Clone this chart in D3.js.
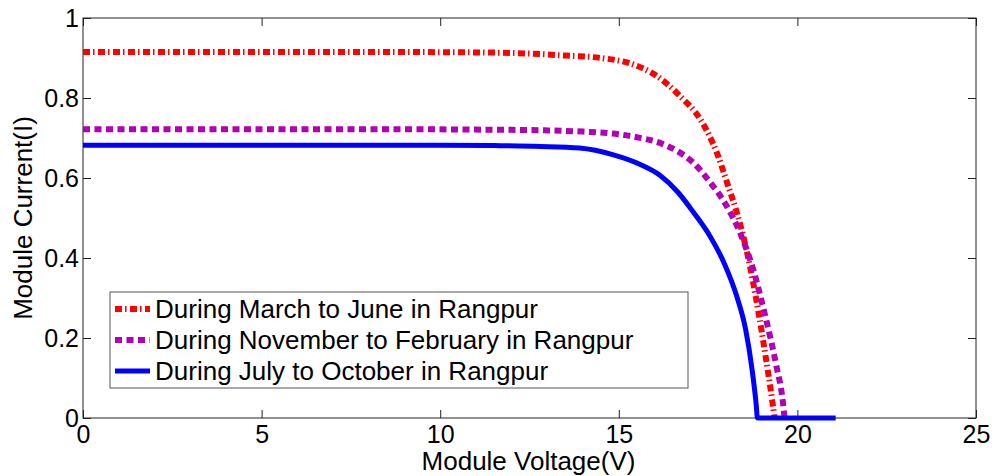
<!DOCTYPE html>
<html>
<head>
<meta charset="utf-8">
<script src="https://cdn.jsdelivr.net/npm/d3@7"></script>
<style>
  body { margin: 0; background: #fff; }
  svg { display: block; font-family: "Liberation Sans", Arial, sans-serif; }
</style>
</head>
<body>
<script>
// I-V curves
var marchV = [0, 4, 8, 11, 12.5, 13.5, 14.5, 15.4, 16.1, 16.7, 17.3, 17.75, 18.05, 18.3, 18.6, 18.9, 19.1, 19.3, 19.36];
var marchI = [0.915, 0.915, 0.915, 0.914, 0.911, 0.906, 0.9, 0.884, 0.853, 0.806, 0.744, 0.662, 0.583, 0.515, 0.41, 0.27, 0.16, 0.04, 0];

var novV = [0, 4, 8, 11, 13, 14, 14.85, 15.5, 16.2, 16.7, 17.1, 17.55, 18.0, 18.4, 18.75, 19.1, 19.4, 19.6, 19.64];
var novI = [0.722, 0.722, 0.722, 0.721, 0.719, 0.716, 0.711, 0.702, 0.686, 0.664, 0.637, 0.59, 0.533, 0.462, 0.375, 0.255, 0.135, 0.035, 0];

var julyV = [0, 4, 8, 10, 11.5, 12.8, 13.9, 14.85, 15.6, 16.15, 16.65, 17.1, 17.55, 17.95, 18.3, 18.55, 18.73, 18.85, 18.88, 21.07];
var julyI = [0.682, 0.682, 0.682, 0.682, 0.681, 0.679, 0.675, 0.658, 0.634, 0.607, 0.565, 0.513, 0.455, 0.387, 0.305, 0.222, 0.122, 0.03, 0, 0];

var seriesNames = ["During March to June in Rangpur",
                   "During November to February in Rangpur",
                   "During July to October in Rangpur"];
var xTicks = [0, 5, 10, 15, 20, 25];
var yTicks = [0, 0.2, 0.4, 0.6, 0.8, 1];

var w = 995, h = 476;
var mLeft = 83, mRight = 976, mTop = 18, mBottom = 418;

var series = [
    {name: seriesNames[0], v: marchV, i: marchI, color: "#ff0000", dash: "7,3,1.5,3.5", width: 6},
    {name: seriesNames[1], v: novV, i: novI, color: "#b400b4", dash: "7,4.5", width: 6},
    {name: seriesNames[2], v: julyV, i: julyI, color: "#0000ff", dash: null, width: 5}
];

var xScale = d3.scaleLinear().domain([0, 25]).range([mLeft, mRight]);
var yScale = d3.scaleLinear().domain([0, 1]).range([mBottom, mTop]);

var svg = d3.select("body").append("svg")
    .attr("width", w)
    .attr("height", h);

svg.append("rect")
    .attr("width", w).attr("height", h)
    .attr("fill", "#fff");

// axes: ticks point inward, mirrored on top and right like matlab
var axisColor = "#222";
var tickLen = 8;

var xAxis = d3.axisBottom(xScale).tickValues(xTicks).tickSize(-tickLen).tickPadding(7).tickFormat(d3.format("d"));
var yAxis = d3.axisLeft(yScale).tickValues(yTicks).tickSize(-tickLen).tickPadding(5).tickFormat(function(d) { return d3.format("~g")(d); });

var gx = svg.append("g").attr("transform", "translate(0," + mBottom + ")").call(xAxis);
var gy = svg.append("g").attr("transform", "translate(" + mLeft + ",0)").call(yAxis);

svg.append("g").attr("transform", "translate(0," + mTop + ")")
    .call(d3.axisTop(xScale).tickValues(xTicks).tickSize(-tickLen).tickFormat(""));
svg.append("g").attr("transform", "translate(" + mRight + ",0)")
    .call(d3.axisRight(yScale).tickValues(yTicks).tickSize(-tickLen).tickFormat(""));

svg.selectAll(".domain").remove();
svg.selectAll(".tick line").attr("stroke", axisColor).attr("stroke-width", 1);
svg.selectAll(".tick text").attr("fill", "#000").attr("font-size", 25)
    .attr("font-family", "Liberation Sans, Arial, sans-serif");
gx.selectAll(".tick text").attr("dy", "0.71em");
gy.selectAll(".tick text").attr("x", -4);

svg.append("rect")
    .attr("x", mLeft).attr("y", mTop)
    .attr("width", mRight - mLeft).attr("height", mBottom - mTop)
    .attr("fill", "none")
    .attr("stroke", axisColor)
    .attr("stroke-width", 1);

// curves
var line = d3.line()
    .x(function(d) { return xScale(d[0]); })
    .y(function(d) { return yScale(d[1]); })
    .curve(d3.curveMonotoneX);

series.forEach(function(s) {
    var pts = d3.zip(s.v, s.i);
    svg.append("path")
        .datum(pts)
        .attr("d", line)
        .attr("fill", "none")
        .attr("stroke", s.color)
        .attr("stroke-width", s.width)
        .attr("stroke-dasharray", s.dash)
        .attr("stroke-linejoin", "round");
});

// axis titles
svg.append("text")
    .attr("x", (mLeft + mRight) / 2 - 1)
    .attr("y", 470)
    .attr("text-anchor", "middle")
    .attr("font-size", 26)
    .text("Module Voltage(V)");

svg.append("text")
    .attr("transform", "translate(32," + ((mTop + mBottom) / 2) + ") rotate(-90)")
    .attr("text-anchor", "middle")
    .attr("font-size", 26)
    .text("Module Current(I)");

// legend
var legend = svg.append("g");
legend.append("rect")
    .attr("x", 110).attr("y", 292)
    .attr("width", 578).attr("height", 96)
    .attr("fill", "#fff")
    .attr("stroke", "#555")
    .attr("stroke-width", 1);

var rowY = [309, 340, 371];
series.forEach(function(s, k) {
    legend.append("line")
        .attr("x1", 115).attr("x2", 150)
        .attr("y1", rowY[k]).attr("y2", rowY[k])
        .attr("stroke", s.color)
        .attr("stroke-width", s.width)
        .attr("stroke-dasharray", s.dash);
    legend.append("text")
        .attr("x", 155)
        .attr("y", rowY[k])
        .attr("dy", "0.35em")
        .attr("font-size", 26)
        .text(s.name);
});
</script>
</body>
</html>
